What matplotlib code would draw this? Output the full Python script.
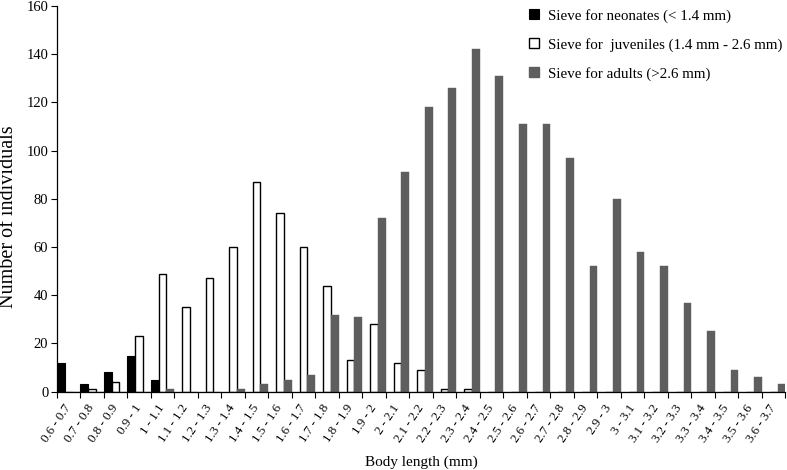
import matplotlib
matplotlib.use("Agg")
import matplotlib.pyplot as plt
from matplotlib.patches import Patch
import numpy as np

categories = ["0.6 - 0.7", "0.7 - 0.8", "0.8 - 0.9", "0.9 - 1", "1 - 1.1", "1.1 - 1.2",
              "1.2 - 1.3", "1.3 - 1.4", "1.4 - 1.5", "1.5 - 1.6", "1.6 - 1.7", "1.7 - 1.8",
              "1.8 - 1.9", "1.9 - 2", "2 - 2.1", "2.1 - 2.2", "2.2 - 2.3", "2.3 - 2.4",
              "2.4 - 2.5", "2.5 - 2.6", "2.6 - 2.7", "2.7 - 2.8", "2.8 - 2.9", "2.9 - 3",
              "3 - 3.1", "3.1 - 3.2", "3.2 - 3.3", "3.3 - 3.4", "3.4 - 3.5", "3.5 - 3.6",
              "3.6 - 3.7"]
neonates = [12, 3, 8, 15, 5, 0, 0, 0, 0, 0, 0, 0, 0, 0, 0, 0, 0, 0, 0, 0, 0, 0, 0, 0,
            0, 0, 0, 0, 0, 0, 0]
juveniles = [0, 1, 4, 23, 49, 35, 47, 60, 87, 74, 60, 44, 13, 28, 12, 9, 1, 1, 0, 0, 0,
             0, 0, 0, 0, 0, 0, 0, 0, 0, 0]
adults = [0, 0, 0, 0, 1, 0, 0, 1, 3, 5, 7, 32, 31, 72, 91, 118, 126, 142, 131, 111, 111,
          97, 52, 80, 58, 52, 37, 25, 9, 6, 3]
series_labels = ["Sieve for neonates (< 1.4 mm)",
                 "Sieve for  juveniles (1.4 mm - 2.6 mm)",
                 "Sieve for adults (>2.6 mm)"]
y_ticks = [0, 20, 40, 60, 80, 100, 120, 140, 160]

plt.rcParams['font.family'] = ['Liberation Serif', 'DejaVu Serif']

fig = plt.figure(figsize=(7.87, 4.70), dpi=100)
ax = fig.add_axes([0.072, 0.1666, 0.926, 0.8206])

x = np.arange(len(categories))
w = 1 / 3
grey = '#5e5e5e'
ax.bar(x - w, neonates, width=w, color='black', edgecolor='black', linewidth=0.8)
ax.bar(x, juveniles, width=w, color='white', edgecolor='black', linewidth=1.0)
ax.bar(x + w, adults, width=w, color=grey, edgecolor=grey, linewidth=0.3)

ax.set_xlim(-0.5, len(categories) - 0.5)
ax.set_ylim(0, 160)
ax.set_yticks(y_ticks)
ax.tick_params(axis='y', labelsize=10.5, length=4, width=0.8, direction='out', pad=2)

ax.set_xticks(np.arange(len(categories) + 1) - 0.5)
ax.set_xticklabels([])
ax.tick_params(axis='x', which='major', length=4, width=0.8, direction='out')
ax.set_xticks(x, minor=True)
ax.set_xticklabels(categories, minor=True, rotation=56, ha='right', va='center',
                   rotation_mode='anchor', fontsize=9.3)
ax.tick_params(axis='x', which='minor', length=0, pad=10)

for s in ['top', 'right']:
    ax.spines[s].set_visible(False)
for s in ['left', 'bottom']:
    ax.spines[s].set_linewidth(0.9)

ax.set_ylabel("Number of individuals", fontsize=14.5, va='center', ha='center')
ax.yaxis.set_label_coords(-0.0655, 0.455)
ax.set_xlabel("Body length (mm)", fontsize=11, labelpad=8)

handles = [Patch(facecolor='black', edgecolor='black', linewidth=0.8),
           Patch(facecolor='white', edgecolor='black', linewidth=1.0),
           Patch(facecolor=grey, edgecolor=grey)]
leg = fig.legend(handles, series_labels, loc='upper left', bbox_to_anchor=(0.655, 1.01),
                 frameon=False, fontsize=10.8, handlelength=0.65, handleheight=0.65,
                 handletextpad=0.6, labelspacing=1.0)

fig.savefig("out.png", dpi=100)
